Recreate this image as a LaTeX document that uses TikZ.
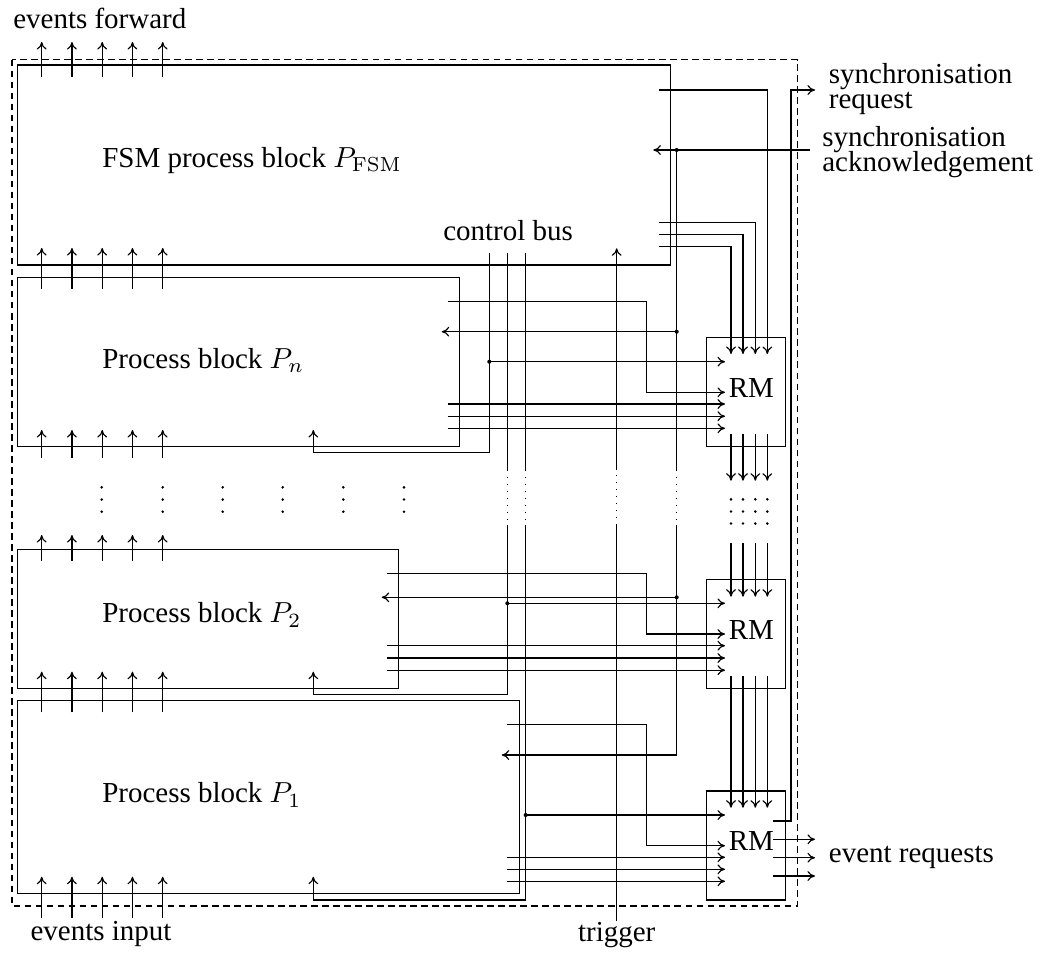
\documentclass[tikz,border=0pt]{standalone}
\usepackage[no-math]{fontspec}
\setmainfont{Liberation Serif}
\usetikzlibrary{arrows.meta,fit}

\tikzset{
  block/.style={draw,inner sep=0pt,fit={#1}},
  txt/.style={inner sep=0pt},
  junct/.style={fill},
}

\begin{document}
\begin{tikzpicture}[x=0.345pt,y=-0.345pt,>={To[length=2.6pt,width=3.4pt]},thin]
  \useasboundingbox (0,0) rectangle (1053,953);
  \draw[dash pattern=on 2.3pt off 1.5pt] (12,59.5) rectangle (797.5,906);
  % blocks
  \node[block={(17.5,65) (670.3,265)}] (fsm) {};
  \node[block={(17.5,277.3) (459.3,446.7)}] (pn) {};
  \node[block={(17.5,549.3) (398.3,688.3)}] (p2) {};
  \node[block={(17.5,700.7) (519.3,893.5)}] (p1) {};
  \node[block={(706.7,337.3) (785.7,446.7)}] (rmn) {};
  \node[block={(706.7,579.3) (785.7,688.3)}] (rm2) {};
  \node[block={(706.7,791) (785.7,900)}] (rm1) {};
  \node[txt,anchor=base west] (fsmtxt) at (101.7,167) {FSM process block $P_{\mathrm{FSM}}$};
  \node[txt,anchor=base west] (pntxt) at (101.7,368.3) {Process block $P_n$};
  \node[txt,anchor=base west] (p2txt) at (101.7,622.7) {Process block $P_2$};
  \node[txt,anchor=base west] (p1txt) at (101.7,802.7) {Process block $P_1$};
  \node[txt,anchor=base west] (rmntxt) at (728.3,397.7) {RM};
  \node[txt,anchor=base west] (rm2txt) at (728.3,639.3) {RM};
  \node[txt,anchor=base west] (rm1txt) at (728.3,850.7) {RM};
  % outer labels
  \node[txt,anchor=base west] (evfwd) at (12.7,28.3) {events forward};
  \node[txt,anchor=base west] (evin) at (30,940.7) {events input};
  \node[txt,anchor=base] (trig) at (616.7,941) {trigger};
  \node[txt,anchor=base west] (cbus) at (442.7,240.7) {control bus};
  \node[txt,anchor=base west] (evreq) at (828.3,862.7) {event requests};
  \node[txt,anchor=north west,align=left] (syncreq) at (828.3,62.9)
    {synchronisation\\[-3.4pt]request};
  \node[txt,anchor=north west,align=left] (syncack) at (821.7,126.2)
    {synchronisation\\[-3.4pt]acknowledgement};
  % event lines
  \foreach \x in {41.7,71.95,102.2,132.45,162.7} {
    \draw[->] (\x,77) -- (\x,42);
    \draw[->] (\x,288.5) -- (\x,248);
    \draw[->] (\x,458.3) -- (\x,430);
    \draw[->] (\x,561) -- (\x,535);
    \draw[->] (\x,712.3) -- (\x,671.7);
    \draw[->] (\x,917.7) -- (\x,876.7);
  }
  \foreach \x in {101.7,162.7,222.7,282.7,343.3,404}
    \foreach \y in {487.3,499.5,511.7} \fill (\x,\y) circle (0.5pt);
  \foreach \x in {731,743,755.3,767.3}
    \foreach \y in {499.3,511.5,523.5} \fill (\x,\y) circle (0.5pt);
  % control bus
  \draw[->] (489.3,253.3) -- (489.3,452.3) -- (313.3,452.3) -- (313.3,430);
  \draw (507.3,253.3) -- (507.3,470);
  \draw[dotted] (507.3,470) -- (507.3,525);
  \draw[->] (507.3,525) -- (507.3,694.3) -- (313.3,694.3) -- (313.3,671.7);
  \draw (525.7,253.3) -- (525.7,470);
  \draw[dotted] (525.7,470) -- (525.7,525);
  \draw[->] (525.7,525) -- (525.7,900) -- (313.3,900) -- (313.3,876.7);
  \fill[junct] (489.3,361.7) circle (0.7pt);
  \draw[->] (489.3,361.7) -- (725,361.7);
  \fill[junct] (507.3,603.3) circle (0.7pt);
  \draw[->] (507.3,603.3) -- (725,603.3);
  \fill[junct] (525.7,815) circle (0.7pt);
  \draw[->] (525.7,815) -- (725,815);
  % trigger
  \draw (trig.north) -- (616.7,525);
  \draw[dotted] (616.7,525) -- (616.7,470);
  \draw[->] (616.7,470) -- (616.7,248.3);
  % synchronisation acknowledgement
  \draw[->] (810,150) -- (653.3,150);
  \fill[junct] (676.7,150) circle (0.7pt);
  \draw (676.7,150) -- (676.7,470);
  \draw[dotted] (676.7,470) -- (676.7,525);
  \draw[->] (676.7,525) -- (676.7,755) -- (501.7,755);
  \fill[junct] (676.7,331.7) circle (0.7pt);
  \draw[->] (676.7,331.7) -- (441.7,331.7);
  \fill[junct] (676.7,597.3) circle (0.7pt);
  \draw[->] (676.7,597.3) -- (381.7,597.3);
  % FSM to RM
  \draw[->] (658.7,90) -- (767.3,90) -- (767.3,354);
  \foreach \y/\x in {222.7/755.3,234.3/743,246.7/731}
    \draw[->] (658.7,\y) -- (\x,\y) -- (\x,354);
  \foreach \x in {731,743,755.3,767.3} {
    \draw[->] (\x,434.3) -- (\x,480.7);
    \draw[->] (\x,543.3) -- (\x,596.7);
    \draw[->] (\x,676) -- (\x,807.7);
  }
  % process blocks to RM
  \draw[->] (447.7,301.7) -- (646.7,301.7) -- (646.7,392.3) -- (725,392.3);
  \foreach \y in {404,416.2,428.3} \draw[->] (447.7,\y) -- (725,\y);
  \draw[->] (386.7,573.3) -- (646.7,573.3) -- (646.7,634) -- (725,634);
  \foreach \y in {645.7,658,670.2} \draw[->] (386.7,\y) -- (725,\y);
  \draw[->] (507.3,724.3) -- (646.7,724.3) -- (646.7,845.7) -- (725,845.7);
  \foreach \y in {857.3,869.3,881.3} \draw[->] (507.3,\y) -- (725,\y);
  % RM outputs
  \draw[->] (773.3,821) -- (791,821) -- (791,90) -- (815,90);
  \foreach \y in {839.3,857.7,876} \draw[->] (773.3,\y) -- (815,\y);
\end{tikzpicture}
\end{document}
